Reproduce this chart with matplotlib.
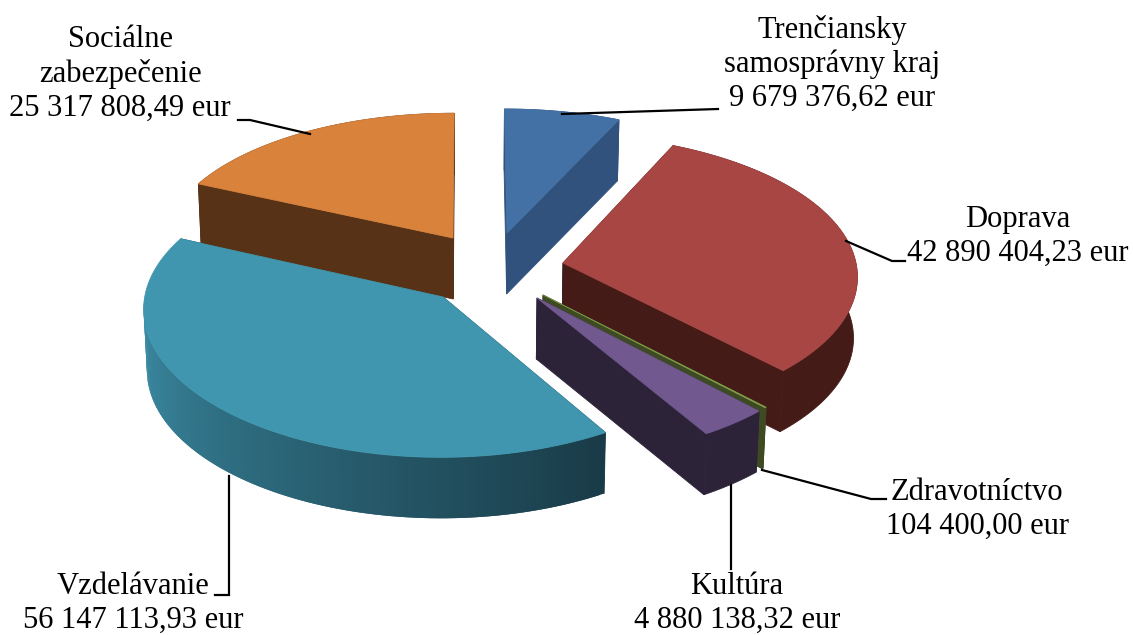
import numpy as np
import matplotlib
matplotlib.use('Agg')
import matplotlib.pyplot as plt
from matplotlib.colors import to_rgb

names = ["Trenčiansky\nsamosprávny kraj\n9 679 376,62 eur", "Doprava\n42 890 404,23 eur",
         "Zdravotníctvo\n104 400,00 eur", "Kultúra\n4 880 138,32 eur",
         "Vzdelávanie\n56 147 113,93 eur", "Sociálne\nzabezpečenie\n25 317 808,49 eur"]
values = [9679376.62, 42890404.23, 104400.00, 4880138.32, 56147113.93, 25317808.49]
top_cols = ["#4471a5", "#a84644", "#7f9a48", "#71588f", "#4096ae", "#d8823c"]
wall_cols = ["#30527c", "#451b18", "#3d4a22", "#2d2339", "#193b47", "#573216"]
# apex of every slice on the picture, in px
apex_x = [507, 563, 543, 537, 443, 453]
apex_y = [233, 263, 295, 298, 297, 238]
label_x = [832, 1018, 977, 737, 133, 120]
label_y = [64, 236, 509, 603, 603, 74]

xc, yc = 470.0, 270.0
R = 294.0
H = 61.0
q, py, px = 0.48, 0.0003, 0.00026


def to_screen(wx, wy):
    return xc + wx / (1 + px * wy), yc - q * wy / (1 + py * wy)


def apex_world(sx, sy):
    m = (yc - sy) / q
    wy = m / (1 - py * m)
    wx = (sx - xc) * (1 + px * wy)
    return wx, wy


def wall_point(x, y):
    # walls lean a little towards the middle as they go down
    return xc + (x - xc) * 0.99, y + H


fig = plt.figure(figsize=(11.33, 6.35), dpi=100)
ax = fig.add_axes([0, 0, 1, 1])
ax.set_xlim(0, 1133)
ax.set_ylim(635, 0)
ax.axis('off')

vals = np.array(values)
edges = np.concatenate([[0], np.cumsum(vals)]) / vals.sum() * 2 * np.pi

for i in [5, 0, 1, 2, 3, 4]:
    a0, a1 = edges[i], edges[i + 1]
    t = np.linspace(a0, a1, max(int((a1 - a0) * 60), 3))
    wx0, wy0 = apex_world(apex_x[i], apex_y[i])
    x, y = to_screen(wx0 + R * np.sin(t), wy0 + R * np.cos(t))
    ox, oy = apex_x[i], apex_y[i]
    bx, by = wall_point(x, y)
    obx, oby = wall_point(ox, oy)
    # cut faces
    for k in [0, -1]:
        ax.fill([ox, x[k], bx[k], obx], [oy, y[k], by[k], oby], color=wall_cols[i], lw=0.6, zorder=2 + i)
    # outer wall
    if i == 4:
        dark = np.array(to_rgb("#193b47"))
        light = np.array(to_rgb("#3d8fa8"))
        vis = np.where(t < 1.5 * np.pi)[0]
        for j in vis[:-1]:
            f = (t[j] - a0) / (1.5 * np.pi - a0)
            e = min(j + 2, vis[-1])
            ax.fill([x[j], x[e], bx[e], bx[j]], [y[j], y[e], by[e], by[j]],
                    color=dark + (light - dark) * f, lw=0, zorder=2 + i)
    else:
        ax.fill(np.r_[x, bx[::-1]], np.r_[y, by[::-1]], color=wall_cols[i], lw=0.6, zorder=2 + i)
    ax.fill(np.r_[ox, x], np.r_[oy, y], color=top_cols[i], lw=0.6, zorder=3 + i)

kw = dict(fontsize=22, family='Liberation Serif', ha='center', va='center', color='black', linespacing=1.22, zorder=20)
for i in range(len(names)):
    ax.text(label_x[i], label_y[i], names[i], **kw)

line = dict(color='black', lw=1.6, zorder=15, solid_joinstyle='miter')
ax.plot([562, 718], [114, 109], **line)
ax.plot([846, 892, 905], [241, 261, 261], **line)
ax.plot([762, 871, 886], [470, 499, 499], **line)
ax.plot([731, 731], [485, 569], **line)
ax.plot([229, 229, 215], [476, 595, 595], **line)
ax.plot([238, 250, 310], [120, 120, 134], **line)

fig.savefig("out.png", dpi=100)
